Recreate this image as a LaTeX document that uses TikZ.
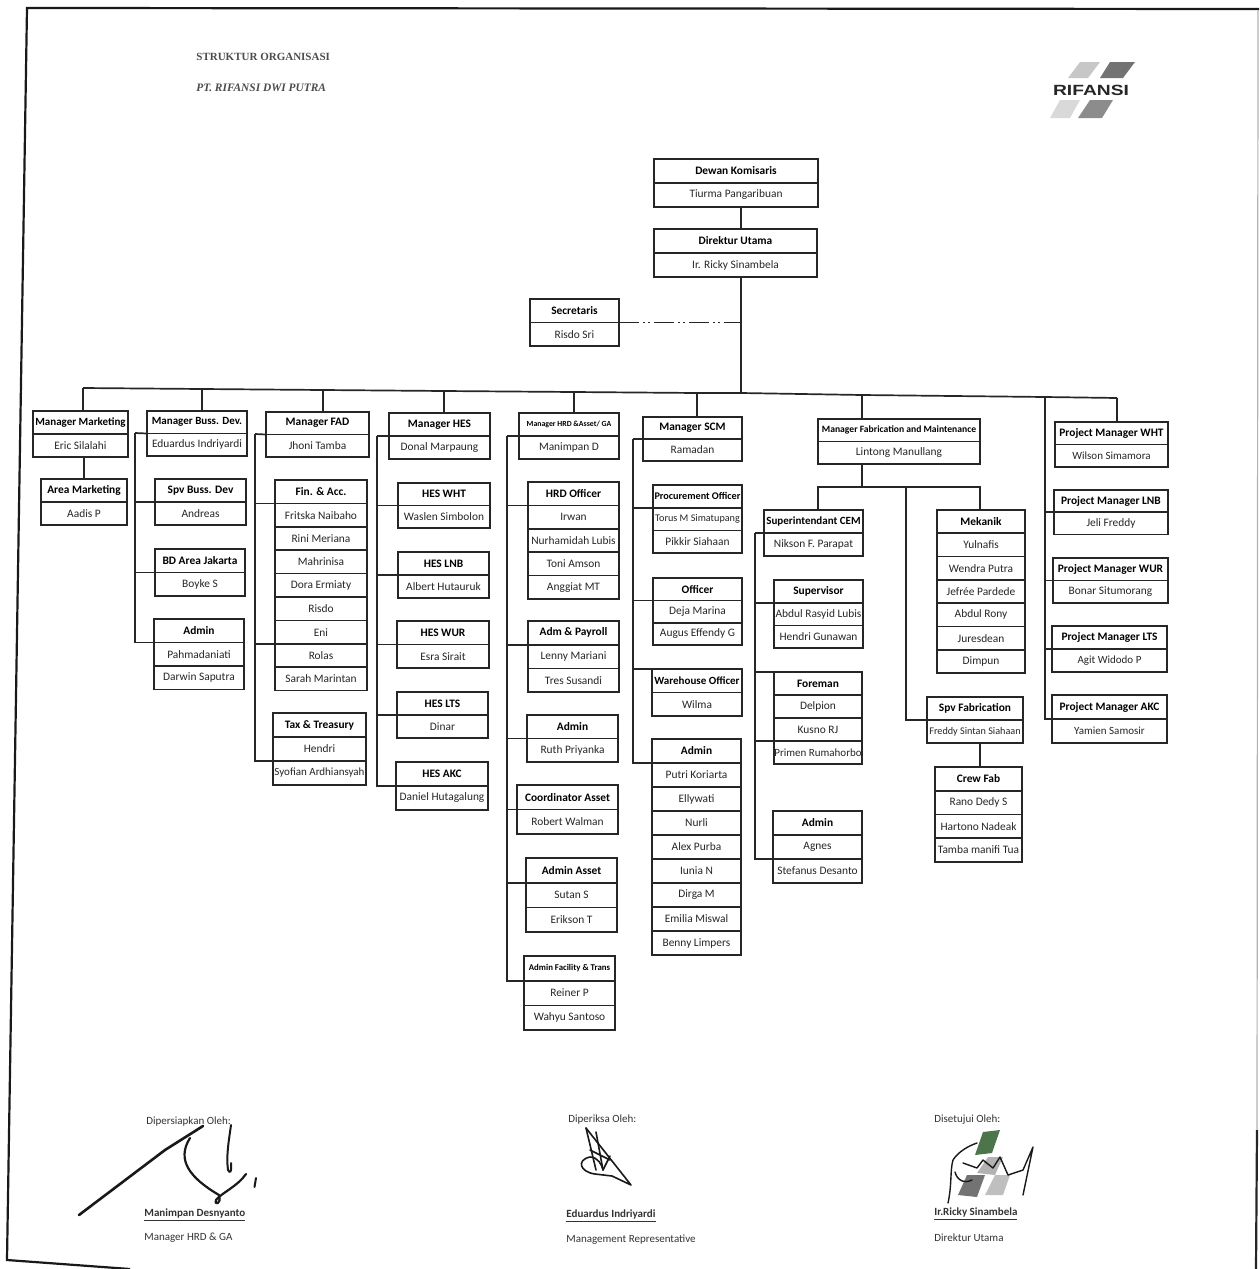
\documentclass[tikz,border=0pt]{standalone}
\usepackage{fontspec}
\setmainfont{Carlito}
\newfontfamily\titlefont{Liberation Serif}
\newfontfamily\logofont{Liberation Sans}
\usepackage{tikz}
\tikzset{
  cellbase/.style={draw=black!85, line width=0.85pt, inner sep=0pt, outer sep=0pt, anchor=north west, align=center, fill=white},
  headcell/.style={cellbase, font=\fontsize{5.7}{6.5}\selectfont\bfseries},
  namecell/.style={cellbase, font=\fontsize{5.7}{6.5}\selectfont, text=black!85},
  link/.style={draw=black!85, line width=0.85pt},
  footlabel/.style={anchor=west, inner sep=0pt, font=\fontsize{5.5}{6.5}\selectfont, text=black!80},
  signstroke/.style={draw=black!90, line cap=round, line join=round},
}
\newcommand{\tinyhead}[1]{\fontsize{3.9}{5}\selectfont #1}
\newcommand{\smallhead}[1]{\fontsize{5.1}{6}\selectfont #1}
\newcommand{\midhead}[1]{\fontsize{5.5}{6}\selectfont #1}
\begin{document}
\begin{tikzpicture}[x=0.5pt, y=-0.5pt]
  \useasboundingbox (0,0) rectangle (1259,1269);
  % one card: name, left, right, top, row height, rows (first row is the heading)
  \newcommand{\orgcard}[6]{
    \foreach \txt [count=\i from 0] in {#6} {
      \ifnum\i=0
        \node[headcell, minimum width={(#3-#2)*0.5pt}, minimum height={#5*0.5pt}] (#1-\i) at ({#2},{#4+\i*#5}) {\txt};
      \else
        \node[namecell, minimum width={(#3-#2)*0.5pt}, minimum height={#5*0.5pt}] (#1-\i) at ({#2},{#4+\i*#5}) {\txt};
      \fi
    }
  }
  % sheet edge
  \draw[black!90, line width=1.1pt] (1259,9) -- (27,8) -- (7,1260) -- (130,1269);
  \draw[black!30, line width=0.6pt] (1258,10) -- (1257,1130);
  \draw[black!85, line width=1.1pt] (1257,1130) -- (1256,1269);
  % heading and logo
  \node[anchor=west, inner sep=0pt, font=\titlefont\fontsize{5.5}{7}\selectfont\bfseries, text=black!70] (title) at (196,57) {STRUKTUR ORGANISASI};
  \node[anchor=west, inner sep=0pt, font=\titlefont\fontsize{5.7}{7}\selectfont\bfseries\itshape, text=black!70] (company) at (196,88) {PT. RIFANSI DWI PUTRA};
  \fill[black!22] (1068,78) -- (1080,62) -- (1100,62) -- (1088,78) -- cycle;
  \fill[black!55] (1100,78) -- (1110,62) -- (1135,62) -- (1123,78) -- cycle;
  \fill[black!15] (1050,118) -- (1060,100) -- (1080,100) -- (1070,118) -- cycle;
  \fill[black!45] (1078,118) -- (1090,100) -- (1113,100) -- (1102,118) -- cycle;
  \node[inner sep=0pt, font=\logofont\fontsize{7.4}{8}\selectfont\bfseries, xscale=1.3, transform shape, text=black!85] (logo) at (1091,90) {RIFANSI};
  % top of the tree
  \orgcard{dew}{654}{818}{159}{24}{Dewan Komisaris,Tiurma Pangaribuan}
  \orgcard{dir}{654}{817}{229}{24}{Direktur Utama,Ir. Ricky Sinambela}
  \orgcard{sec}{530}{619}{299}{23.5}{Secretaris,Risdo Sri}
  % managers row
  \orgcard{mm}{33}{128}{411}{23}{{\midhead{Manager Marketing}},Eric Silalahi}
  \orgcard{mbd}{147}{247}{411}{22.5}{{\midhead{Manager Buss. Dev.}},Eduardus Indriyardi}
  \orgcard{fad}{266}{369}{412}{22.5}{Manager FAD,Jhoni Tamba}
  \orgcard{hes}{389}{490}{413}{23}{Manager HES,Donal Marpaung}
  \orgcard{hrd}{519}{619}{413}{23}{{\tinyhead{Manager HRD \&Asset/ GA}},Manimpan D}
  \orgcard{scm}{643}{742}{417}{22}{Manager SCM,Ramadan}
  \orgcard{fab}{818}{980}{419}{22.5}{{\fontsize{4.8}{5}\selectfont Manager Fabrication and Maintenance},Lintong Manullang}
  \orgcard{pwht}{1055}{1168}{422}{22.5}{Project Manager WHT,{\midhead{Wilson Simamora}}}
  % marketing and business development
  \orgcard{am}{41}{127}{479}{23}{Area Marketing,Aadis P}
  \orgcard{spv}{155}{246}{479}{23}{Spv Buss. Dev,Andreas}
  \orgcard{bd}{155}{245}{549}{23.5}{BD Area Jakarta,Boyke S}
  \orgcard{adm}{154}{244}{619}{23.5}{Admin,Pahmadaniati,Darwin Saputra}
  % finance
  \orgcard{fin}{275}{367}{480}{23.4}{Fin. \& Acc.,Fritska Naibaho,Rini Meriana,Mahrinisa,Dora Ermiaty,Risdo,Eni,Rolas,Sarah Marintan}
  \orgcard{tax}{273}{366}{713}{24}{Tax \& Treasury,Hendri,{\midhead{Syofian Ardhiansyah}}}
  % HES
  \orgcard{hwht}{398}{490}{483}{22.5}{HES  WHT,Waslen Simbolon}
  \orgcard{hlnb}{398}{489}{552}{23}{HES LNB,Albert Hutauruk}
  \orgcard{hwur}{397}{489}{621}{23.5}{HES WUR,Esra Sirait}
  \orgcard{hlts}{397}{488}{692}{23}{HES LTS,Dinar}
  \orgcard{hakc}{396}{488}{762}{24}{HES AKC,Daniel Hutagalung}
  % HRD and asset
  \orgcard{off}{528}{619}{482}{23.4}{HRD Officer,Irwan,Nurhamidah Lubis,Toni Amson,Anggiat MT}
  \orgcard{pay}{528}{619}{621}{23.7}{Adm \& Payroll,Lenny Mariani,Tres Susandi}
  \orgcard{hadm}{527}{618}{715}{23.5}{Admin,Ruth Priyanka}
  \orgcard{coo}{517}{618}{785}{24.5}{Coordinator Asset,Robert Walman}
  \orgcard{ast}{526}{617}{858}{24.7}{Admin Asset,Sutan S,Erikson T}
  \orgcard{fac}{524}{615}{956}{24.7}{{\fontsize{4.4}{5}\selectfont Admin Facility \& Trans},Reiner P,Wahyu Santoso}
  % SCM
  \orgcard{pro}{653}{742}{485}{22.7}{{\smallhead{Procurement Officer}},{\smallhead{Torus M Simatupang}},Pikkir Siahaan}
  \orgcard{sof}{653}{742}{578}{22.4}{Officer,Deja Marina,Augus Effendy G}
  \orgcard{war}{652}{742}{669}{23.5}{{\midhead{Warehouse Officer}},Wilma}
  \orgcard{sadm}{652}{741}{739}{24}{Admin,Putri Koriarta,Ellywati,Nurli,Alex Purba,Iunia N,Dirga M,Emilia Miswal,Benny Limpers}
  % fabrication
  \orgcard{cem}{764}{863}{510}{23}{{\midhead{Superintendant CEM}},Nikson F. Parapat}
  \orgcard{sup}{774}{863}{580}{22.7}{Supervisor,Abdul Rasyid Lubis,Hendri Gunawan}
  \orgcard{fore}{774}{862}{672}{23}{Foreman,Delpion,Kusno RJ,{\midhead{Primen Rumahorbo}}}
  \orgcard{fadm}{773}{862}{811}{24}{Admin,Agnes,Stefanus Desanto}
  \orgcard{mek}{937}{1025}{510}{23.3}{Mekanik,Yulnafis,Wendra Putra,Jefrée Pardede,Abdul Rony,Juresdean,Dimpun}
  \orgcard{sfab}{927}{1023}{697}{23}{Spv Fabrication,{\fontsize{5.1}{6}\selectfont Freddy Sintan Siahaan}}
  \orgcard{crew}{935}{1022}{767}{23.7}{Crew Fab,Rano Dedy S,Hartono Nadeak,Tamba manifi Tua}
  % projects
  \orgcard{plnb}{1054}{1168}{490}{22.3}{Project Manager LNB,Jeli Freddy}
  \orgcard{pwur}{1053}{1168}{558}{22.5}{Project Manager WUR,Bonar Situmorang}
  \orgcard{plts}{1052}{1167}{626}{23}{Project Manager LTS,{\midhead{Agit Widodo P}}}
  \orgcard{pakc}{1052}{1167}{695}{24}{Project Manager AKC,{\midhead{Yamien Samosir}}}
  % bus under the director
  \coordinate (busa) at (83,388);
  \coordinate (busb) at (202,389);
  \coordinate (busc) at (323,390);
  \coordinate (busd) at (444,391);
  \coordinate (buse) at (574,392);
  \coordinate (busf) at (697,393);
  \coordinate (busmain) at (741,393);
  \coordinate (busg) at (862,395);
  \coordinate (bush) at (1045,397);
  \coordinate (busi) at (1117,398);
  \draw[link] (busa) -- (busb) -- (busc) -- (busd) -- (buse) -- (busf) -- (busmain) -- (busg) -- (bush) -- (busi);
  \foreach \b/\m in {busa/mm,busb/mbd,busc/fad,busd/hes,buse/hrd,busf/scm,busg/fab,busi/pwht} {
    \draw[link] (\b) -- (\b |- \m-0.north);
  }
  \draw[link] (busmain |- dew-1.south) -- (busmain |- dir-0.north);
  \draw[link] (busmain |- dir-1.south) -- (busmain);
  \draw[link, dash pattern=on 10pt off 2pt on 1pt off 1.5pt on 1pt off 2pt] (sec-0.south east) -- (sec-0.south east -| busmain);
  \draw[link] (mm-1.south -| am-0.north) -- (am-0.north);
  % trunks
  \coordinate (mbdtrunk) at (135,433);
  \coordinate (fadtrunk) at (255,434);
  \coordinate (hestrunk) at (377,436);
  \coordinate (hrdtrunk) at (507,436);
  \coordinate (scmtrunk) at (633,439);
  \coordinate (cemtrunk) at (755,533);
  \draw[link] (mbd-0.south west) -- (mbdtrunk);
  \draw[link] (fad-0.south west) -- (fadtrunk);
  \draw[link] (hes-0.south west) -- (hestrunk);
  \draw[link] (hrd-0.south west) -- (hrdtrunk);
  \draw[link] (scm-0.south west) -- (scmtrunk);
  \draw[link] (cem-0.south west) -- (cemtrunk);
  \foreach \t/\c in {mbdtrunk/spv-0,mbdtrunk/bd-0,mbdtrunk/adm-0,
                     fadtrunk/fin-0,fadtrunk/fin-6,fadtrunk/tax-1,
                     hestrunk/hwht-0,hestrunk/hlnb-0,hestrunk/hwur-0,hestrunk/hlts-0,hestrunk/hakc-0,
                     hrdtrunk/off-0,hrdtrunk/pay-0,hrdtrunk/hadm-0,hrdtrunk/coo-0,hrdtrunk/ast-0,hrdtrunk/fac-0,
                     scmtrunk/pro-0,scmtrunk/sof-0,scmtrunk/sadm-0,
                     cemtrunk/sup-0,cemtrunk/fore-2,cemtrunk/fadm-1,
                     bush/plnb-0,bush/pwur-0,bush/plts-0,bush/pakc-0} {
    \draw[link] (\t) |- (\c.south west);
  }
  \draw[link] (scmtrunk |- war-0.north west) -- (war-0.north west);
  \draw[link] (cemtrunk |- fore-0.north west) -- (fore-0.north west);
  % fabrication fork
  \coordinate (fabfork) at (862,487);
  \coordinate (fabl) at (818,487);
  \coordinate (fabm) at (906,487);
  \coordinate (fabr) at (980,487);
  \draw[link] (fabfork |- fab-1.south) -- (fabfork);
  \draw[link] (fabl |- cem-0.north) -- (fabl) -- (fabr) -- (fabr |- mek-0.north);
  \draw[link] (fabm) |- (sfab-0.south west);
  \draw[link] (fabr |- sfab-1.south) -- (fabr |- crew-0.north);
  % sign-off
  \node[footlabel] (prep) at (146,1122) {Dipersiapkan Oleh:};
  \node[footlabel, font=\fontsize{5.5}{6.5}\selectfont\bfseries] (prepname) at (144,1215) {\underline{Manimpan Desnyanto}};
  \node[footlabel] (preprole) at (144,1238) {Manager HRD \& GA};
  \node[footlabel] (chk) at (568,1120) {Diperiksa Oleh:};
  \node[footlabel, font=\fontsize{5.5}{6.5}\selectfont\bfseries] (chkname) at (566,1216) {\underline{Eduardus Indriyardi}};
  \node[footlabel] (chkrole) at (566,1240) {Management Representative};
  \node[footlabel] (apr) at (934,1120) {Disetujui Oleh:};
  \node[footlabel, font=\fontsize{5.5}{6.5}\selectfont\bfseries] (aprname) at (934,1214) {\underline{Ir.Ricky Sinambela}};
  \node[footlabel] (aprrole) at (934,1238) {Direktur Utama};
  % signatures
  \draw[signstroke, line width=1.3pt] (79,1215) -- (165,1150) -- (203,1126);
  \draw[signstroke, line width=1.1pt] (190,1138) .. controls (176,1160) and (190,1178) .. (219,1195) .. controls (222,1204) and (214,1206) .. (216,1200) .. controls (220,1194) and (238,1186) .. (246,1174);
  \draw[signstroke, line width=1pt] (231,1125) .. controls (229,1140) and (226,1155) .. (228,1170) .. controls (230,1174) and (232,1172) .. (231,1163);
  \draw[signstroke, line width=1pt] (256,1178) -- (254.5,1187);
  \draw[signstroke, line width=0.8pt] (586,1128) -- (631,1185) -- (612,1176) -- (595,1174) .. controls (580,1172) and (576,1160) .. (590,1157) .. controls (598,1157) and (602,1165) .. (603,1170) -- (610,1156);
  \draw[signstroke, line width=0.8pt] (586,1128) -- (596,1170);
  \draw[signstroke, line width=0.8pt] (596,1132) -- (603,1170) (590,1150) -- (610,1160);
  \fill[black!60!green!40!gray] (975,1155) -- (983,1132) -- (1000,1130) -- (992,1153) -- cycle;
  \fill[black!55] (958,1195) -- (967,1175) -- (985,1175) -- (977,1197) -- cycle;
  \fill[black!25] (985,1195) -- (995,1175) -- (1010,1175) -- (1003,1195) -- cycle;
  \fill[black!30] (977,1173) -- (988,1157) -- (1003,1157) -- (995,1175) -- cycle;
  \draw[signstroke, line width=0.7pt] (948,1203) .. controls (952,1185) and (950,1170) .. (953,1160) .. controls (958,1152) and (968,1146) .. (977,1143);
  \draw[signstroke, line width=0.7pt] (955,1172) .. controls (957,1180) and (964,1184) .. (972,1180);
  \draw[signstroke, line width=0.7pt] (963,1163) -- (977,1168) -- (983,1160) -- (993,1168) -- (1000,1157) -- (1008,1175) -- (1023,1170) -- (1033,1147) -- (1023,1195);
\end{tikzpicture}
\end{document}
